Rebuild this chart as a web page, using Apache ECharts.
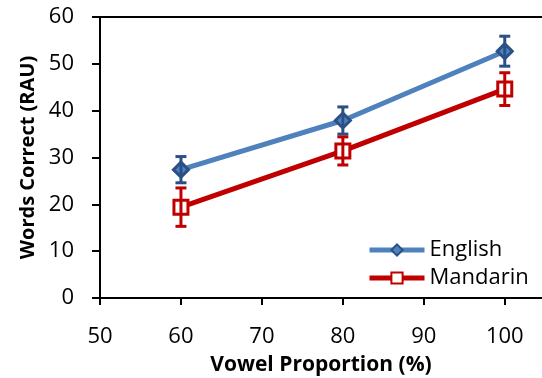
<!DOCTYPE html>
<html>
<head>
<meta charset="utf-8">
<script src="https://cdn.jsdelivr.net/npm/echarts@6/dist/echarts.min.js"></script>
<style>
  html, body { margin: 0; padding: 0; background: #fff; }
  #chart { width: 542px; height: 378px; }
</style>
</head>
<body>
<div id="chart"></div>
<script>
// values
const vowelProportion = [ 60, 80, 100 ];
const englishMean = [ 27.4, 37.9, 52.7 ];
const englishErr = [ 2.8, 2.9, 3.2 ];
const mandarinMean = [ 19.4, 31.4, 44.6 ];
const mandarinErr = [ 4.1, 3.0, 3.5 ];
const xTicks = [ 50, 60, 70, 80, 90, 100 ];

const FONT = 'Open Sans';
const BLUE = '#4F81BD';
const DARK_BLUE = '#2A5185';
const RED = '#C00000';

const toPoints = ( means ) => vowelProportion.map( ( x, i ) => [ x, means[ i ] ] );
const toRanges = ( means, errs ) => vowelProportion.map( ( x, i ) => [ x, means[ i ] - errs[ i ], means[ i ] + errs[ i ] ] );

/**
 * Draws a vertical error bar with caps for each [x, low, high] item.
 *
 * @param {string} color
 */
const errorBar = ( color ) => ( params, api ) => {
	const x = api.value( 0 );
	const top = api.coord( [ x, api.value( 2 ) ] );
	const bot = api.coord( [ x, api.value( 1 ) ] );
	const hw = 5.5;
	const style = { stroke: color, lineWidth: 3 };
	return {
		type: 'group',
		children: [
			{ type: 'line', shape: { x1: top[ 0 ], y1: top[ 1 ], x2: bot[ 0 ], y2: bot[ 1 ] }, style },
			{ type: 'line', shape: { x1: top[ 0 ] - hw, y1: top[ 1 ], x2: top[ 0 ] + hw, y2: top[ 1 ] }, style },
			{ type: 'line', shape: { x1: bot[ 0 ] - hw, y1: bot[ 1 ], x2: bot[ 0 ] + hw, y2: bot[ 1 ] }, style }
		]
	};
};

const axisLine = { show: true, lineStyle: { color: '#000', width: 2 } };
const labelStyle = { color: '#000', fontFamily: FONT, fontSize: 22 };
const nameStyle = { color: '#000', fontFamily: FONT, fontSize: 20, fontWeight: 'bold' };

const chart = echarts.init( document.getElementById( 'chart' ), null, { renderer: 'canvas' } );

// the original plot is cut off at the right edge, a little past 100
const X_MIN = 50;
const X_MAX = 104.6;

chart.setOption( {
	animation: false,
	grid: { left: 100, top: 17, bottom: 80, right: 0, containLabel: false, outerBoundsMode: 'none' },
	xAxis: [ {
		type: 'value',
		min: X_MIN,
		max: X_MAX,
		name: 'Vowel Proportion (%)',
		nameLocation: 'middle',
		nameGap: 57,
		nameTextStyle: Object.assign( {}, nameStyle, { fontSize: 21 } ),
		axisLine,
		axisTick: { show: true, length: 7, customValues: xTicks, lineStyle: { color: '#000', width: 2 } },
		axisLabel: Object.assign( { margin: 28, customValues: xTicks }, labelStyle ),
		splitLine: { show: false }
	}, {
		type: 'value',
		position: 'top',
		min: X_MIN,
		max: X_MAX,
		axisLine,
		axisTick: { show: false },
		axisLabel: { show: false },
		splitLine: { show: false }
	} ],
	yAxis: {
		type: 'value',
		min: 0,
		max: 60,
		interval: 10,
		name: 'Words Correct (RAU)',
		nameLocation: 'middle',
		nameGap: 62,
		nameTextStyle: nameStyle,
		axisLine,
		axisTick: { show: true, length: 8, lineStyle: { color: '#000', width: 2 } },
		axisLabel: Object.assign( { margin: 26, padding: [ 8, 0, 0, 0 ] }, labelStyle ),
		splitLine: { show: false }
	},
	legend: {
		orient: 'vertical',
		left: 362,
		top: 234,
		itemWidth: 55,
		itemHeight: 14,
		itemGap: 6,
		textStyle: labelStyle,
		lineStyle: { width: 5 },
		data: [ 'English', 'Mandarin' ]
	},
	series: [
		{
			name: 'English',
			type: 'line',
			data: toPoints( englishMean ),
			symbol: 'diamond',
			symbolSize: 15,
			lineStyle: { color: BLUE, width: 5 },
			itemStyle: { color: BLUE, borderColor: DARK_BLUE, borderWidth: 3 },
			z: 3
		},
		{
			name: 'Mandarin',
			type: 'line',
			data: toPoints( mandarinMean ),
			symbol: 'rect',
			symbolSize: 14,
			lineStyle: { color: RED, width: 5 },
			itemStyle: { color: '#fff', borderColor: RED, borderWidth: 3 },
			z: 3
		},
		{
			name: 'English err',
			type: 'custom',
			data: toRanges( englishMean, englishErr ),
			renderItem: errorBar( DARK_BLUE ),
			z: 4
		},
		{
			name: 'Mandarin err',
			type: 'custom',
			data: toRanges( mandarinMean, mandarinErr ),
			renderItem: errorBar( RED ),
			z: 4
		}
	]
} );
</script>
</body>
</html>
